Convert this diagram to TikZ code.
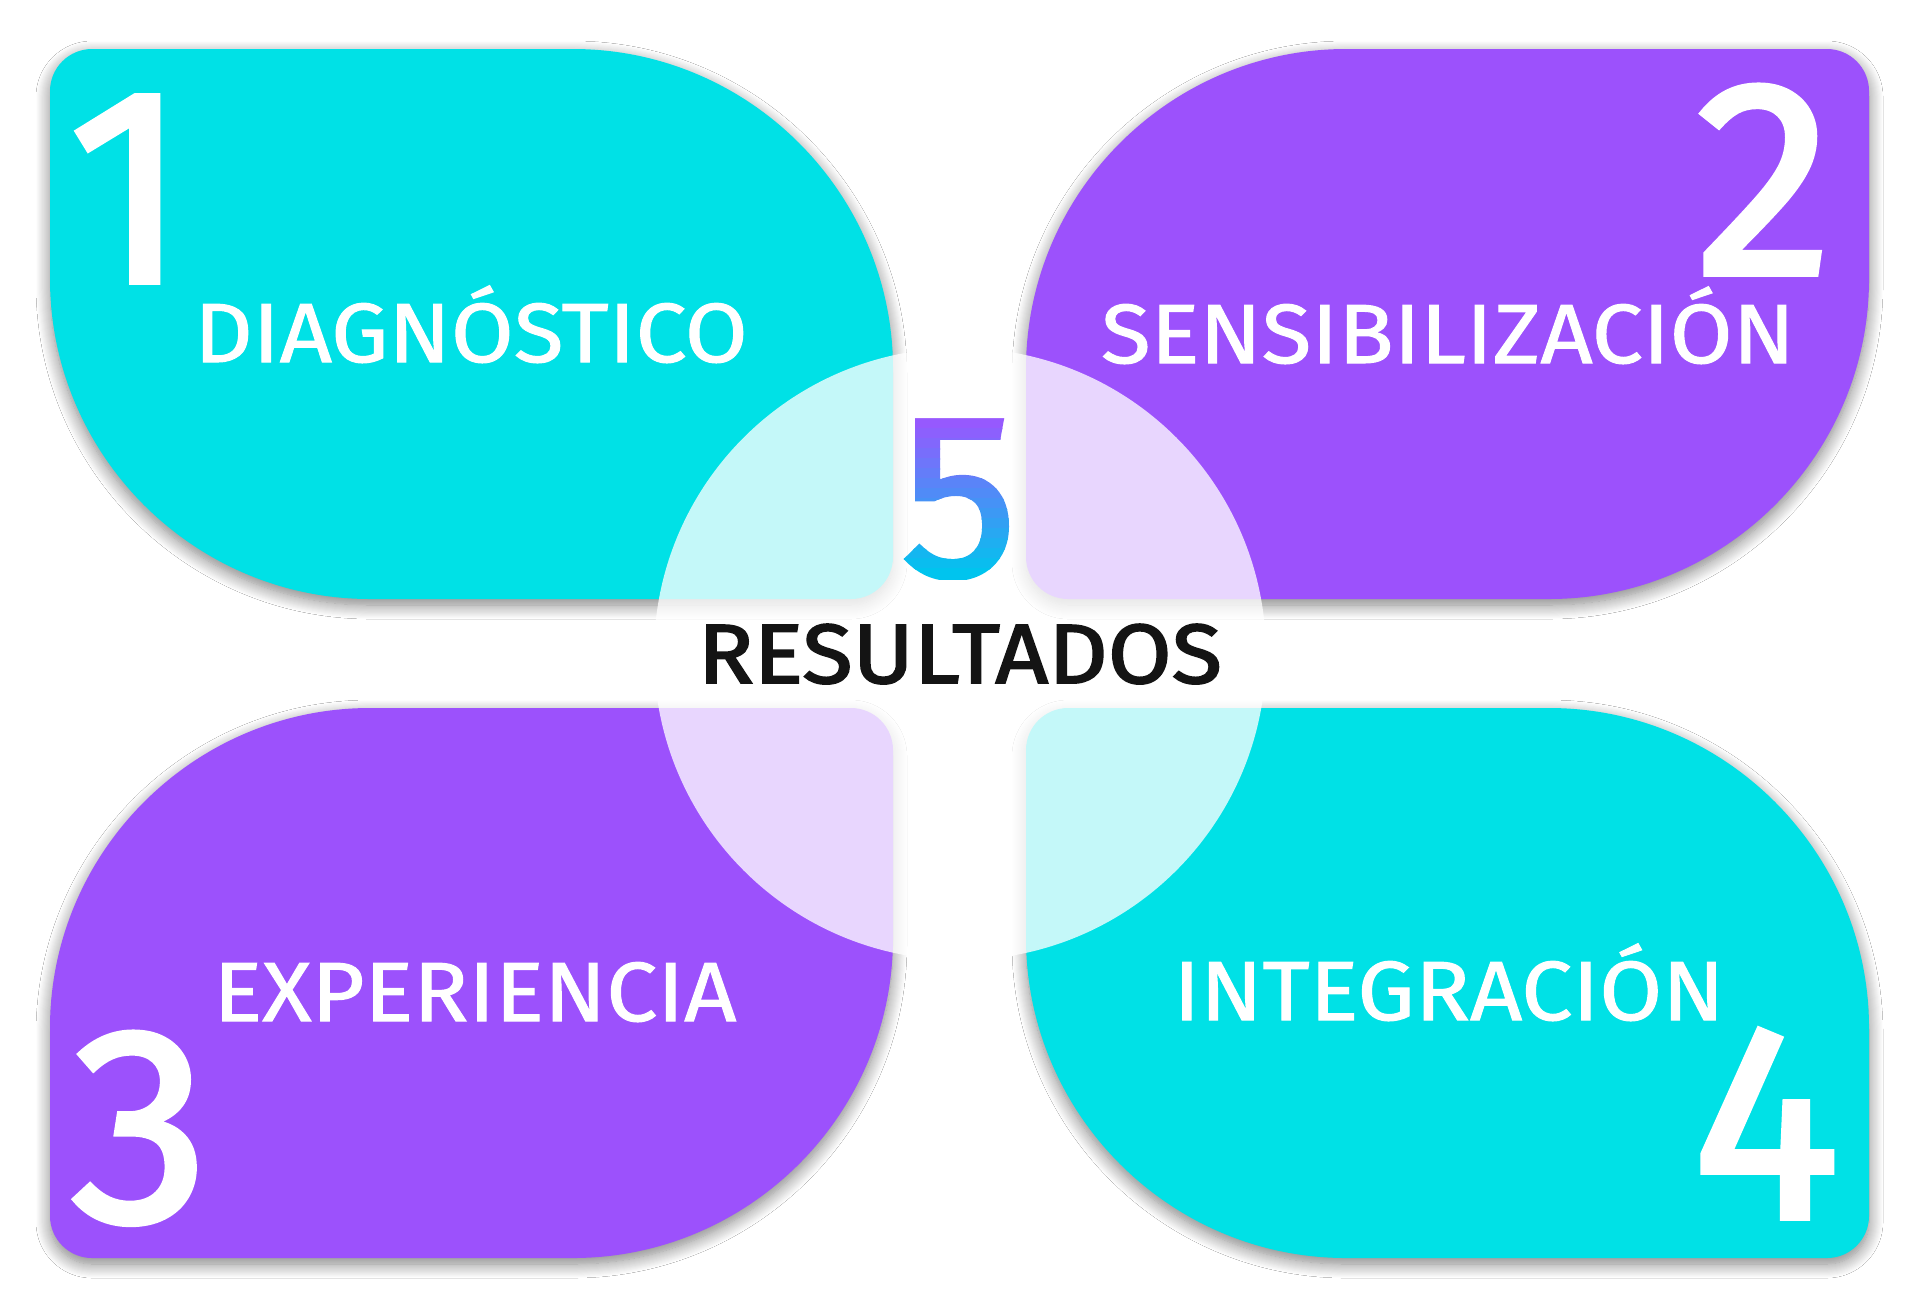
\documentclass[tikz,border=0pt]{standalone}
\usepackage{fontspec}
\setmainfont{Fira Sans}
\newfontfamily\labelfont{Fira Sans}[FakeStretch=1.085,FakeBold=1.2]
\newfontfamily\headfont{Fira Sans}[FakeStretch=1.1,FakeBold=2.2]
\newfontfamily\numfont{Fira Sans}[FakeBold=2]
\usetikzlibrary{shadows.blur}

\definecolor{leafcyan}{RGB}{0,225,230}
\definecolor{leafpurple}{RGB}{156,81,252}
\definecolor{fivetop}{RGB}{160,82,255}
\definecolor{fivebot}{RGB}{0,196,238}

% leaf: style, left, top, then corner radii tl, tr, br, bl (size 843 x 550)
\newcommand{\leaf}[7]{%
  \fill[#1] ({#2+#4},#3) -- ({#2+843-#5},#3)
    .. controls ({#2+843-0.45*#5},#3) and ({#2+843},{#3+0.45*#5}) .. ({#2+843},{#3+#5})
    -- ({#2+843},{#3+550-#6})
    .. controls ({#2+843},{#3+550-0.45*#6}) and ({#2+843-0.45*#6},{#3+550}) .. ({#2+843-#6},{#3+550})
    -- ({#2+#7},{#3+550})
    .. controls ({#2+0.45*#7},{#3+550}) and (#2,{#3+550-0.45*#7}) .. (#2,{#3+550-#7})
    -- (#2,{#3+#4})
    .. controls (#2,{#3+0.45*#4}) and ({#2+0.45*#4},#3) .. ({#2+#4},#3) -- cycle;}

\begin{document}
\begin{tikzpicture}[x=0.5pt,y=-0.5pt,
    leafshadow/.style={blur shadow={shadow xshift=0pt,shadow yshift=-3pt,shadow blur radius=7pt,shadow blur steps=14,shadow opacity=50}},
    leaftext/.style={text=white,inner sep=0pt,anchor=base,font=\labelfont\fontsize{42}{42}\selectfont},
    bignum/.style={text=white,inner sep=0pt,anchor=base,font=\numfont\fontsize{139}{139}\selectfont}]
  \fill[white] (0,0) rectangle (1920,1308);
  \useasboundingbox (0,0) rectangle (1920,1308);
  % the four leaves
  \leaf{leafcyan,leafshadow}{50}{49}{42}{320}{42}{320}
  \leaf{leafpurple,leafshadow}{1026}{49}{320}{42}{320}{42}
  \leaf{leafpurple,leafshadow}{50}{708}{320}{42}{320}{42}
  \leaf{leafcyan,leafshadow}{1026}{708}{42}{320}{42}{320}
  % centre disc
  \fill[white,opacity=0.77] (960,654) circle (306);
  % numbers and labels
  \node[bignum] (n1) at (128,282) {1};
  \node[bignum] (n2) at (1764,274) {2};
  \node[bignum] (n3) at (140,1221) {3};
  \node[bignum] (n4) at (1766,1218) {4};
  \node[leaftext] (t1) at (471,362) {DIAGNÓSTICO};
  \node[leaftext] (t2) at (1448,363) {SENSIBILIZACIÓN};
  \node[leaftext] (t3) at (475,1021) {EXPERIENCIA};
  \node[leaftext] (t4) at (1449,1020) {INTEGRACIÓN};
  % five, shaded in bands
  \foreach \i in {0,...,16}{
    \pgfmathsetmacro{\p}{100*\i/16}
    \colorlet{fivec}{fivebot!\p!fivetop}
    \begin{scope}
      \clip (880,{408+10*\i}) rectangle (1040,{419+10*\i});
      \node[bignum,text=fivec,font=\numfont\fontsize{116}{116}\selectfont] (five\i) at (959,576) {5};
    \end{scope}
  }
  \node[text=black!92,inner sep=0pt,anchor=base,font=\headfont\fontsize{42}{42}\selectfont] (res) at (960,683) {RESULTADOS};
\end{tikzpicture}
\end{document}
